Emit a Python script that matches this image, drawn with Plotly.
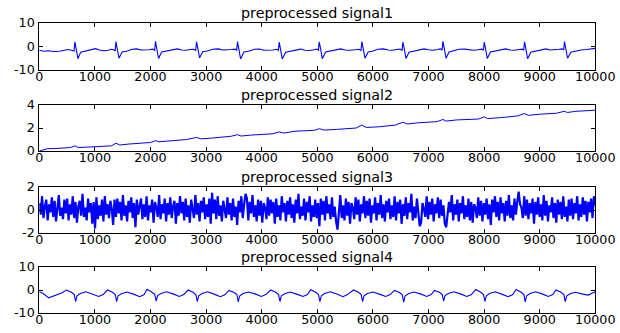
import numpy as np
import plotly.graph_objects as go

# ---------------- data ----------------
titles = ["preprocessed signal1", "preprocessed signal2", "preprocessed signal3", "preprocessed signal4"]
x_ticks = [0, 1000, 2000, 3000, 4000, 5000, 6000, 7000, 8000, 9000, 10000]
x_ticktext = ["0", "1000", "2000", "3000", "4000", "5000", "6000", "7000", "8000", "9000", "10000"]
y_ticks1 = [-10, 0, 10]
y_ticks2 = [0, 2, 4]
y_ticks3 = [-2, 0, 2]
y_ticks4 = [-10, 0, 10]

s1_x = [0, 80, 160, 260, 360, 440, 520, 580, 625, 640, 665, 695, 745, 830, 930, 1010, 1080, 1160, 1240, 1300,
        1345, 1365, 1378, 1403, 1433, 1490, 1570, 1670, 1750, 1830, 1900, 1980, 2040, 2075, 2090, 2115, 2145,
        2200, 2290, 2400, 2480, 2560, 2640, 2720, 2780, 2812, 2828, 2853, 2883, 2940, 3020, 3120, 3220, 3300,
        3380, 3460, 3520, 3550, 3565, 3590, 3620, 3680, 3760, 3870, 3960, 4040, 4120, 4200, 4270, 4300, 4315,
        4340, 4370, 4430, 4510, 4610, 4700, 4780, 4860, 4940, 4990, 5020, 5034, 5059, 5089, 5150, 5230, 5330,
        5420, 5500, 5580, 5680, 5750, 5787, 5802, 5827, 5857, 5915, 5990, 6090, 6190, 6270, 6350, 6430, 6490,
        6525, 6540, 6565, 6595, 6650, 6730, 6830, 6920, 7000, 7080, 7160, 7215, 7245, 7259, 7284, 7314, 7370,
        7450, 7550, 7650, 7730, 7810, 7890, 7960, 7988, 8002, 8027, 8057, 8115, 8200, 8300, 8390, 8470, 8550,
        8630, 8690, 8713, 8727, 8752, 8782, 8840, 8920, 9020, 9110, 9190, 9270, 9350, 9405, 9432, 9446, 9471,
        9501, 9560, 9640, 9740, 9840, 9920, 10000]
s1_y = [-1.6, -2.0, -1.8, -2.1, -2.0, -1.7, -1.3, -1.6, -1.9, 2.0, -1.2, -5.2, -2.4, -1.9, -1.1, -0.9, -1.5, -1.8, -1.6, -1.2,
        -1.5, -1.9, 2.1, -1.0, -5.0, -2.3, -2.0, -1.2, -1.0, -1.5, -1.6, -1.4, -1.1, -1.6, 2.2, -0.8, -5.1,
        -2.3, -1.9, -1.1, -1.0, -1.5, -1.6, -1.3, -1.2, -1.7, 2.0, -1.0, -4.8, -2.2, -1.9, -1.2, -1.0, -1.5,
        -1.5, -1.3, -1.1, -1.6, 2.1, -1.0, -5.3, -2.3, -2.0, -1.2, -1.1, -1.6, -1.7, -1.5, -1.2, -1.6, 1.9,
        -1.0, -5.3, -2.4, -2.0, -1.3, -1.1, -1.6, -1.7, -1.4, -1.1, -1.6, 2.0, -0.9, -5.2, -2.3, -1.9, -1.2,
        -1.0, -1.5, -1.6, -1.4, -1.2, -1.7, 2.1, -1.0, -5.0, -2.3, -2.0, -1.2, -1.0, -1.5, -1.6, -1.3, -1.1,
        -1.6, 1.9, -1.0, -5.1, -2.4, -2.0, -1.2, -1.0, -1.4, -1.6, -1.3, -1.0, -1.5, 2.2, -0.9, -5.0, -2.3,
        -1.9, -1.2, -1.1, -1.5, -1.6, -1.4, -1.1, -1.6, 1.9, -1.0, -5.1, -2.3, -1.9, -1.2, -1.0, -1.5, -1.6,
        -1.3, -1.1, -1.6, 2.0, -1.0, -5.2, -2.4, -2.0, -1.2, -1.0, -1.5, -1.5, -1.2, -1.0, -1.5, 2.1, -1.0,
        -5.0, -2.4, -1.9, -1.5, -1.3, -1.0, -0.8]

s2_x = [0, 150, 300, 450, 560, 640, 700, 800, 1000, 1200, 1300, 1380, 1450, 1600, 1800, 2000, 2090, 2150, 2300,
        2500, 2650, 2830, 2900, 3100, 3300, 3450, 3565, 3630, 3800, 4000, 4200, 4315, 4400, 4600, 4800, 4950,
        5035, 5120, 5350, 5600, 5700, 5800, 5880, 6100, 6400, 6540, 6620, 6800, 7000, 7150, 7260, 7320, 7500,
        7700, 7900, 8000, 8060, 8300, 8600, 8725, 8800, 9000, 9300, 9440, 9500, 9650, 9800, 10000]
s2_y = [0.0, 0.2, 0.22, 0.25, 0.3, 0.45, 0.3, 0.32, 0.38, 0.42, 0.45, 0.68, 0.52, 0.6, 0.68, 0.74, 0.9, 0.8, 0.86,
        0.97, 1.0, 1.18, 1.06, 1.12, 1.2, 1.28, 1.42, 1.3, 1.38, 1.42, 1.5, 1.66, 1.56, 1.72, 1.75, 1.8,
        1.94, 1.82, 1.88, 1.95, 2.0, 2.25, 2.05, 2.1, 2.25, 2.5, 2.35, 2.45, 2.48, 2.55, 2.74, 2.6, 2.7,
        2.72, 2.78, 2.97, 2.82, 2.9, 3.05, 3.26, 3.1, 3.2, 3.28, 3.45, 3.35, 3.45, 3.52, 3.55]

s3_y = [
    0.6, -0.4, 1.2, -0.7, 0.3, 0.9, -0.9, 0.5, -0.2, 1.1, -0.6, 0.8, -1.0, 0.4, 1.3, -0.5, 0.2, -0.8, 0.9, -0.3,
    1.0, -0.9, 0.5, -0.4, 1.2, -0.7, 0.7, -1.1, 0.3, 0.8, -0.5, 1.4, -0.6, 0.2, -0.9, 1.0, -0.2, 0.6, -1.2, 0.7,
    -1.6, 1.1, -0.8, 0.4, -0.5, 0.9, -1.0, 1.2, -0.4, 0.5, -0.7, 0.8, 0.1, -1.3, 0.9, -0.6, 1.0, -0.3, 0.7, -0.9,
    1.3, -0.5, 0.4, -1.0, 0.8, -0.2, 1.1, -0.7, 0.6, -1.5, 0.9, -0.4, 0.3, 1.0, -0.8, 0.5, -0.6, 1.2, -0.9, 0.4,
    -0.2, 0.9, -1.1, 0.7, 0.2, -0.6, 1.3, -0.8, 0.5, -0.3, 1.0, -1.0, 0.6, -0.4, 1.1, -0.7, 0.3, 0.8, -1.2, 0.6,
    -0.5, 1.2, -0.3, 0.7, -0.9, 1.0, -0.6, 0.4, -1.1, 0.9, 0.1, -0.7, 1.3, -0.4, 0.6, -1.0, 0.8, -0.2, 1.1, -0.8,
    0.5, -0.6, 1.0, -1.2, 1.5, -0.3, 0.9, -0.8, 1.2, -0.5, 0.4, -1.0, 0.8, 0.2, -0.7, 1.1, -0.4, 0.6, -0.9, 1.0,
    -0.6, 0.3, -1.3, 0.8, -0.2, 1.2, -0.7, 0.5, 1.4, 1.0, -0.9, 0.7, -0.3, 1.3, -0.6, 0.4, -1.0, 0.9, -0.5, 0.8,
    -1.1, 0.6, 0.2, -0.8, 1.1, -0.5, 0.9, -0.3, 0.7, -1.2, 1.0, -0.6, 0.4, -0.9, 1.2, -0.2, 0.6, -1.0, 0.8, -0.4,
    1.1, -0.7, 0.5, -1.1, 0.9, -0.3, 1.4, -0.8, 0.3, -0.5, 1.0, -0.9, 0.7, -0.2, 1.2, -1.0, 0.4, -0.6, 0.9, -0.7,
    0.6, -1.4, 1.0, -0.4, 0.8, -0.9, 1.2, -0.3, 0.5, -0.8, 1.1, -0.6, 0.3, -1.0, -1.7, -0.2, 1.3, -0.7, 0.4, -0.9,
    1.0, -0.5, 0.7, -1.2, 0.6, 0.2, -0.8, 1.1, -0.4, 0.9, -1.0, 0.5, -0.3, 1.2, -0.7, 0.8, -0.5, 1.0, -1.1, 0.4,
    -0.3, 1.1, -0.9, 0.6, -0.4, 1.3, -0.7, 0.5, -1.0, 0.8, -0.2, 1.0, -0.8, 0.4, -0.6, 1.2, -0.9, 0.7, -0.3, 0.9,
    -1.2, 0.5, -0.5, 1.1, -0.8, 0.6, -0.2, 1.4, -0.9, 0.3, -0.7, 1.0, -0.4, -1.4, -1.1, 0.6, 0.1, -0.6, 1.2, -0.8,
    0.7, -0.4, 1.0, -1.0, 0.5, -0.3, 1.1, -0.7, 0.9, -0.5, 0.4, -1.2, -1.5, -0.6, 0.7, -0.2, 1.3, -0.9, 0.5, -0.4,
    0.9, -1.0, 0.6, -0.3, 1.2, -0.8, 0.4, -0.6, 1.0, -0.9, 0.7, -1.1, 0.5, 0.2, -0.7, 1.1, -0.5, 0.8, -1.0, 0.6,
    -0.4, 1.0, -0.8, 0.5, -1.3, 0.9, -0.2, 1.2, -0.6, 0.7, -0.9, 1.1, -0.3, 0.6, -1.0, 0.8, -0.5, 1.3, -0.7, 0.4,
    -0.9, 1.0, -0.4, 0.7, 1.6, 0.5, 0.2, -0.7, 1.2, -0.5, 0.9, -0.8, 0.6, -0.3, 1.0, -1.2, 0.7, -0.4, 1.1, -0.6,
    0.5, -0.9, 1.3, -0.5, 0.8, -1.0, 0.4, -0.2, 1.1, -0.7, 0.6, -1.1, 0.9, -0.4, 0.7, -0.8, 1.2, -0.6, 0.3, -1.0,
    0.9, -0.5, 1.0, -0.8, 0.6, -0.3, 1.2, -0.9, 0.5, -0.6, 1.1, -0.4, 0.8, -1.0, 0.7, -0.2, 1.0, -0.7, 1.2, 0.4,
]
s3_x = np.linspace(0, 10000, len(s3_y))

s4_x = [0, 70, 170, 300, 400, 488, 578, 628, 653, 678, 738, 838, 968, 1068, 1148, 1226, 1316, 1366, 1391, 1416,
        1476, 1576, 1706, 1806, 1886, 1938, 2028, 2078, 2103, 2128, 2188, 2288, 2418, 2518, 2598, 2676, 2766,
        2816, 2841, 2866, 2926, 3026, 3156, 3256, 3336, 3413, 3503, 3553, 3578, 3603, 3663, 3763, 3893, 3993,
        4073, 4163, 4253, 4303, 4328, 4353, 4413, 4513, 4643, 4743, 4823, 4882, 4972, 5022, 5047, 5072, 5132,
        5232, 5362, 5462, 5542, 5650, 5740, 5790, 5815, 5840, 5900, 6000, 6130, 6230, 6310, 6388, 6478, 6528,
        6553, 6578, 6638, 6738, 6868, 6968, 7048, 7107, 7197, 7247, 7272, 7297, 7357, 7457, 7587, 7687, 7767,
        7850, 7940, 7990, 8015, 8040, 8100, 8200, 8330, 8430, 8510, 8575, 8665, 8715, 8740, 8765, 8825, 8925,
        9055, 9155, 9235, 9294, 9384, 9434, 9459, 9484, 9544, 9644, 9774, 9874, 9940, 10000]
s4_y = [-0.8, -1.5, -3.4, -2.4, -1.3, 0.0, -1.0, -2.0, -5.0, -2.5, -1.5, -0.8, -1.8, -2.8, -2.0, 0.0, -1.0, -2.0, -5.1, -2.5,
        -1.6, -0.9, -1.9, -2.9, -2.0, 0.3, -1.0, -2.0, -4.8, -2.4, -1.5, -0.8, -1.8, -2.8, -2.0, 0.0, -1.0,
        -2.1, -5.0, -2.5, -1.5, -0.8, -1.9, -2.9, -2.1, -0.2, -1.1, -2.0, -5.2, -2.6, -1.5, -0.9, -1.8, -2.8,
        -2.0, 0.0, -1.0, -2.0, -5.0, -2.5, -1.6, -0.9, -1.9, -2.8, -2.0, 0.1, -1.0, -2.0, -5.1, -2.5, -1.5,
        -0.8, -1.8, -2.9, -2.0, 0.0, -1.0, -2.0, -5.1, -2.5, -1.5, -0.9, -1.9, -2.8, -2.0, -0.2, -1.1, -2.1,
        -5.3, -2.6, -1.6, -0.9, -1.8, -2.8, -2.0, -0.2, -1.0, -2.0, -4.8, -2.4, -1.5, -0.8, -1.8, -2.8, -2.1,
        0.2, -1.0, -2.0, -5.0, -2.5, -1.5, -0.8, -1.9, -2.9, -2.1, 0.2, -1.0, -2.0, -5.2, -2.5, -1.5, -0.8,
        -1.8, -2.8, -2.0, 0.0, -1.0, -2.0, -5.1, -2.6, -1.6, -1.0, -1.8, -2.2, -1.4, -0.8]

# ---------------- figure ----------------
W, H = 620, 333
x_dom = [39.3 / W, 595.3 / W]
panels_px = [(23, 70), (105, 151), (187, 233), (267, 313)]  # top, bottom in px
y_doms = [[1 - b / H, 1 - t / H] for t, b in panels_px]

series = [(s1_x, s1_y, y_ticks1), (s2_x, s2_y, y_ticks2), (s3_x, s3_y, y_ticks3), (s4_x, s4_y, y_ticks4)]
line_w = [1.1, 1.0, 2.2, 1.1]

tick_font = dict(family="DejaVu Sans, sans-serif", size=12.7, color="black")
title_font = dict(family="DejaVu Sans, sans-serif", size=14.3, color="black")
fig = go.Figure()
layout = dict(width=W, height=H, margin=dict(l=0, r=0, t=0, b=0, autoexpand=False),
              paper_bgcolor="white", plot_bgcolor="white", showlegend=False, font=tick_font)
annotations = []
for i, (xs, ys, yt) in enumerate(series):
    k = "" if i == 0 else str(i + 1)
    fig.add_trace(go.Scatter(x=xs, y=ys, mode="lines", line=dict(color="#0000FF", width=line_w[i]),
                             xaxis="x" + k, yaxis="y" + k, hoverinfo="skip"))
    axcommon = dict(showline=True, linecolor="black", linewidth=1, mirror="ticks", ticks="inside",
                    ticklen=4, tickcolor="black", showgrid=False, zeroline=False, tickfont=tick_font,
                    automargin=False)
    layout["xaxis" + k] = dict(domain=x_dom, range=[0, 10000], tickvals=x_ticks, ticktext=x_ticktext,
                               anchor="y" + k, ticklabelstandoff=-5, **axcommon)
    layout["yaxis" + k] = dict(domain=y_doms[i], range=[yt[0], yt[-1]], tickvals=yt,
                               ticktext=[str(v) for v in yt], anchor="x" + k,
                               ticklabelstandoff=1, **axcommon)
    annotations.append(dict(text=titles[i], x=0.5 * (x_dom[0] + x_dom[1]), y=y_doms[i][1],
                            xref="paper", yref="paper", xanchor="center", yanchor="bottom",
                            yshift=0, showarrow=False, font=title_font))
layout["annotations"] = annotations
fig.update_layout(**layout)
fig.write_html("out.html")
